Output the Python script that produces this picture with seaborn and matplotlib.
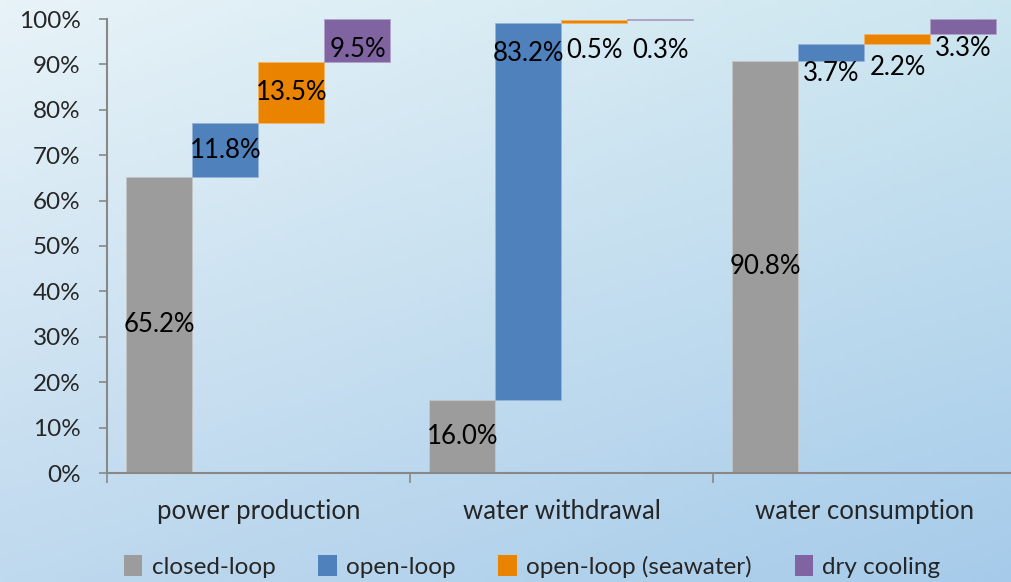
import numpy as np
import matplotlib
matplotlib.use("Agg")
import matplotlib.pyplot as plt
from matplotlib.colors import to_rgb
from matplotlib.patches import Patch
import seaborn as sns

# data (percent shares per cooling type)
groups = ["power production", "water withdrawal", "water consumption"]
series = ["closed-loop", "open-loop", "open-loop (seawater)", "dry cooling"]
closed_loop = [65.2, 16.0, 90.8]
open_loop = [11.8, 83.2, 3.7]
open_loop_sea = [13.5, 0.5, 2.2]
dry_cooling = [9.5, 0.3, 3.3]
y_ticks = [0, 10, 20, 30, 40, 50, 60, 70, 80, 90, 100]

colors = ["#9c9c9c", "#4f81bd", "#e98300", "#8064a2"]

# label spots that were moved by hand in the original (group, series) -> y
label_pos = {
    (0, 3): 93.3,
    (1, 1): 92.5, (1, 2): 93.0, (1, 3): 93.0,
    (2, 1): 87.9, (2, 2): 89.4, (2, 3): 93.4,
}

sns.set_theme(style="white")
plt.rcParams["font.family"] = ["Lato", "DejaVu Sans"]

fig = plt.figure(figsize=(10.12, 5.82), dpi=100)

# gradient background
bg = fig.add_axes([0, 0, 1, 1], zorder=-10)
tl, tr = np.array(to_rgb("#e8f3f8")), np.array(to_rgb("#cce6f0"))
bl, br = np.array(to_rgb("#bfd9ee")), np.array(to_rgb("#a6cbea"))
u = np.linspace(0, 1, 200)[None, :, None]
v = np.linspace(0, 1, 120)[:, None, None]
grad = (1 - v) * ((1 - u) * tl + u * tr) + v * ((1 - u) * bl + u * br)
bg.imshow(grad, aspect="auto", extent=[0, 1, 0, 1])
bg.axis("off")

ax = fig.add_axes([107 / 1012, 109 / 582, 909 / 1012, 454 / 582])
ax.patch.set_alpha(0)

values = np.array([closed_loop, open_loop, open_loop_sea, dry_cooling])
width = 66 / 303
offsets = (np.arange(len(series)) - 1.5) * width
bottoms = np.vstack([np.zeros(len(groups)), np.cumsum(values, axis=0)[:-1]])

for s in range(len(series)):
    x = np.arange(len(groups)) + offsets[s]
    edge = 0.6 * np.array(to_rgb(colors[s])) + 0.4
    ax.bar(x, values[s], bottom=bottoms[s], width=width, color=colors[s],
           edgecolor=edge, linewidth=0.6, label=series[s])
    for g in range(len(groups)):
        y = label_pos.get((g, s), bottoms[s][g] + values[s][g] / 2)
        ax.text(x[g], y, f"{values[s][g]:.1f}%", ha="center", va="center",
                fontsize=18.5, color="black")

ax.set_xlim(-0.5, 2.5)
ax.set_ylim(0, 100)
ax.set_yticks(y_ticks)
ax.set_yticklabels([f"{t}%" for t in y_ticks])
ax.set_xticks([-0.5, 0.5, 1.5, 2.5])
ax.set_xticklabels([])
ax.set_xticks(range(len(groups)), minor=True)
ax.set_xticklabels(groups, minor=True)

ax.tick_params(axis="y", which="major", direction="out", length=6,
               width=1.2, color="#888888", pad=13, labelsize=17.5, left=True)
ax.tick_params(axis="x", which="major", direction="out", length=7,
               width=1.2, color="#888888", bottom=True)
ax.tick_params(axis="x", which="minor", length=0, pad=19, labelsize=18.5)

sns.despine(ax=ax, top=True, right=True)
for side in ["left", "bottom"]:
    ax.spines[side].set_color("#888888")
    ax.spines[side].set_linewidth(1.5)

handles = [Patch(facecolor=c, edgecolor="none") for c in colors]
fig.legend(handles, series, loc="center", bbox_to_anchor=(0.526, 0.027),
           ncol=4, frameon=False, fontsize=17.5, handlelength=0.75,
           handleheight=0.95, handletextpad=0.4, columnspacing=1.75)

fig.savefig("out.png", dpi=100)
